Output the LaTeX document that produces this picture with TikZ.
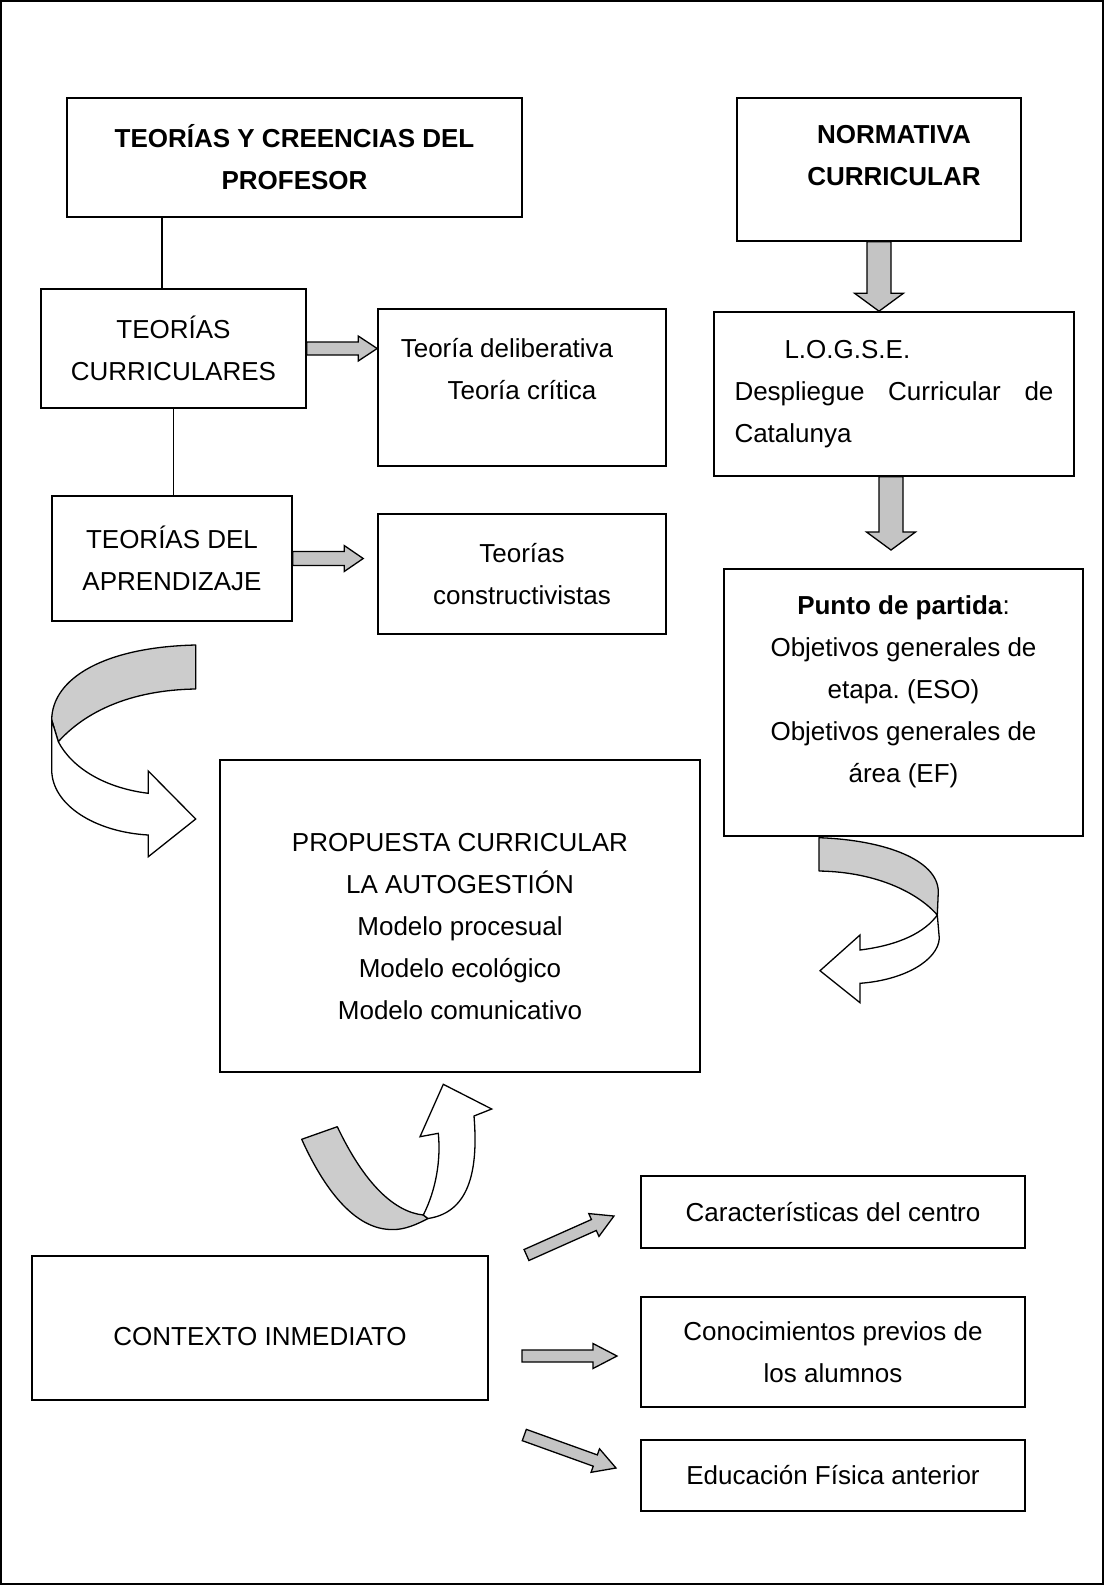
\documentclass[tikz,border=0pt]{standalone}
\usepackage{fontspec}
\setmainfont{Liberation Sans}
\frenchspacing
\usetikzlibrary{calc, positioning}
\tikzset{
x=1pt, y=-1pt, % pixel units, y runs down
box/.style={draw, line width=1.6pt, inner sep=0pt, align=center, font=\fontsize{26}{42}\selectfont}, % every frame
fat/.style={draw, line width=1.3pt, fill=black!23}, % straight gray arrows
band/.style={draw, line width=1.3pt, fill=black!20, line join=round}, % gray side of a curved arrow
bandw/.style={draw, line width=1.3pt, fill=white, line join=miter}, % white side of a curved arrow
}
% from, to, shaft half width, head half width, head length
\newcommand{\blockarrow}[5]{%
  \draw[fat] let \p1=(#1), \p2=(#2), \n1={atan2(\y2-\y1,\x2-\x1)}, \n2={veclen(\x2-\x1,\y2-\y1)} in
  [shift={(\x1,\y1)}, rotate=\n1] (0,#3) -- (\n2-#5,#3) -- (\n2-#5,#4) -- (\n2,0)
  -- (\n2-#5,-#4) -- (\n2-#5,-#3) -- (0,-#3) -- cycle;}

\begin{document}
\begin{tikzpicture}
    \useasboundingbox (0,0) rectangle (1104,1585);
    \draw[line width=1.5pt] (1,1) rectangle (1103,1584);

    % left column
    \node[box, minimum width=455pt, minimum height=119pt] (creencias) at (294.5,157.5) {\textbf{TEORÍAS Y CREENCIAS DEL}\\\textbf{PROFESOR}};
    \node[box, minimum width=265pt, minimum height=119pt] (curric) at (173.5,348.5) {TEORÍAS\\CURRICULARES};
    \node[box, minimum width=288pt, minimum height=157pt] (delib) at (522,387.5) {Teoría deliberativa\hspace*{30pt}\\Teoría crítica\\[-4pt]\mbox{}};
    \node[box, minimum width=240pt, minimum height=125pt] (aprend) at (172,558.5) {TEORÍAS DEL\\APRENDIZAJE};
    \node[box, minimum width=288pt, minimum height=120pt] (constr) at (522,574) {Teorías\\constructivistas};

    % right column
    \node[box, minimum width=284pt, minimum height=143pt] (normativa) at (879,169.5) {\hspace*{30pt}\textbf{NORMATIVA}\\\hspace*{30pt}\textbf{CURRICULAR}\\[-14pt]\mbox{}};
    \node[box, minimum width=360pt, minimum height=164pt, text width=319pt, align=left] (logse) at (894,394) {\hspace*{50pt}L.O.G.S.E.\\Despliegue\hfill Curricular\hfill de\\Catalunya};
    \node[box, minimum width=359pt, minimum height=267pt] (partida) at (903.5,702.5) {\textbf{Punto de partida}:\\Objetivos generales de\\etapa. (ESO)\\Objetivos generales de\\área (EF)\\[-16pt]\mbox{}};

    % centre and bottom
    \node[box, minimum width=480pt, minimum height=312pt] (propuesta) at (460,916) {\mbox{}\\[-2pt]PROPUESTA CURRICULAR\\LA AUTOGESTIÓN\\Modelo procesual\\Modelo ecológico\\Modelo comunicativo};
    \node[box, minimum width=456pt, minimum height=144pt] (contexto) at (260,1328) {\mbox{}\\[-6pt]CONTEXTO INMEDIATO};
    \node[box, minimum width=384pt, minimum height=72pt] (centro) at (833,1212) {Características del centro};
    \node[box, minimum width=384pt, minimum height=110pt] (previos) at (833,1352) {Conocimientos previos de\\los alumnos};
    \node[box, minimum width=384pt, minimum height=71pt] (efant) at (833,1475.5) {Educación Física anterior};

    % plain links
    \draw[line width=1.3pt] ([xshift=-132.5pt]creencias.south) -- ([xshift=-132.5pt]creencias.south |- curric.north);
    \draw[line width=1.3pt] (curric.south) -- (curric.south |- aprend.north);

    % straight gray arrows
    \blockarrow{curric.east}{delib.west |- curric.east}{6.5}{12.5}{19}
    \blockarrow{aprend.east}{[xshift=-14pt]constr.west |- aprend.east}{7}{13}{19}
    \blockarrow{normativa.south}{normativa.south |- logse.north}{12}{24.5}{18}
    \coordinate (tipB) at ([xshift=-3pt]logse.south |- 0,550);
    \blockarrow{[xshift=-3pt]logse.south}{tipB}{12}{24.5}{18}
    \coordinate (c1) at (526.5,1255);
    \coordinate (c1t) at (614,1216);
    \coordinate (c2) at (522,1356);
    \coordinate (c2t) at (617,1356);
    \coordinate (c3) at (524.3,1435);
    \coordinate (c3t) at (616,1468);
    \blockarrow{c1}{c1t}{6}{12.5}{22}
    \blockarrow{c2}{c2t}{6}{12.5}{24}
    \blockarrow{c3}{c3t}{6}{12.5}{22}

    % curved arrow, left
    \draw[band] (195.7,645) .. controls (105,647) and (52,678) .. (51.7,720) -- (58.3,741.7)
        .. controls (85,712) and (130,690) .. (195.7,689) -- cycle;
    \draw[bandw] (51.7,720) -- (51.7,770) .. controls (52,805) and (95,832) .. (148.3,835)
        -- (148.3,856.7) -- (195.7,819) -- (148.3,771) -- (148.3,793.3)
        .. controls (105,788) and (72,768) .. (58.3,741.7) -- cycle;

    % curved arrow, right
    \draw[band] (819,837.7) .. controls (885,840) and (938,860) .. (938.3,891.7) -- (937.3,915)
        .. controls (920,895) and (880,872) .. (819,871) -- cycle;
    \draw[bandw] (937.3,915) -- (939.3,938.3) .. controls (938,960) and (905,980) .. (860,983.3)
        -- (860,1002.7) -- (820,970.7) -- (860,935) -- (860,950)
        .. controls (900,945) and (925,932) .. (937.3,915) -- cycle;

    % curved arrow, bottom
    \draw[band] (301.7,1139.3) -- (337.3,1126.7) .. controls (365,1185) and (395,1212) .. (423.3,1215)
        -- (428,1218.5) .. controls (410,1228) and (400,1230) .. (390,1229.5)
        .. controls (350,1228) and (320,1180) .. (301.7,1139.3) -- cycle;
    \draw[bandw] (423.3,1215) .. controls (436,1190) and (441,1160) .. (438.3,1133.3)
        -- (420,1136.7) -- (443.3,1084.3) -- (491.7,1109) -- (474,1116)
        .. controls (478,1165) and (472,1212) .. (428,1218.5) -- cycle;
\end{tikzpicture}
\end{document}
